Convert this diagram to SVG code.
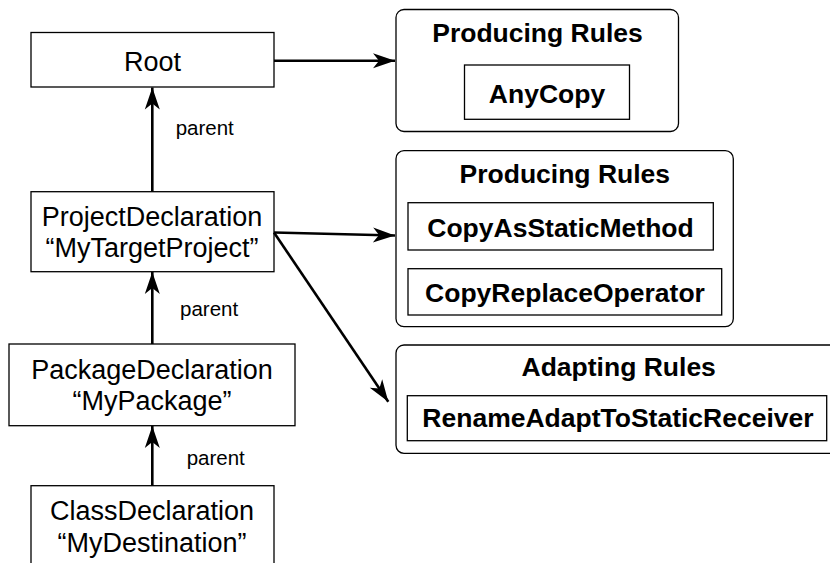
<svg xmlns="http://www.w3.org/2000/svg" width="830" height="563" viewBox="0 0 830 563">
<style>
.node{fill:#fff;stroke:#000;stroke-width:1.3}
.grp{fill:#fff;stroke:#000;stroke-width:1.3}
.t{font-family:"Liberation Sans",Arial,sans-serif;font-size:27px;fill:#000;text-anchor:middle}
.b{font-family:"Liberation Sans",Arial,sans-serif;font-size:26.5px;font-weight:bold;fill:#000;text-anchor:middle}
.lbl{font-family:"Liberation Sans",Arial,sans-serif;font-size:20.5px;fill:#000}
.edge{fill:none;stroke:#000;stroke-width:2.6}
</style>
<defs>
<marker id="arr" markerUnits="userSpaceOnUse" markerWidth="30" markerHeight="20" viewBox="-24 -10 26 20" refX="0" refY="0" orient="auto">
<path d="M0,0 L-22,-7.5 L-16,0 L-22,7.5 Z" fill="#000"/>
</marker>
</defs>
<rect width="830" height="563" fill="#fff"/>

<g id="root">
<rect class="node" x="31" y="32.5" width="243" height="54.5"/>
<text class="t" x="152.5" y="70.5">Root</text>
</g>

<g id="projectDecl">
<rect class="node" x="31" y="191.7" width="243" height="80"/>
<text class="t" x="152" y="225.7">ProjectDeclaration</text>
<text class="t" x="152" y="256.7">“MyTargetProject”</text>
</g>

<g id="packageDecl">
<rect class="node" x="9" y="344" width="286" height="81.7"/>
<text class="t" x="152" y="379">PackageDeclaration</text>
<text class="t" x="152" y="410">“MyPackage”</text>
</g>

<g id="classDecl">
<rect class="node" x="31" y="485.7" width="243" height="90"/>
<text class="t" x="152" y="520">ClassDeclaration</text>
<text class="t" x="152" y="551.5">“MyDestination”</text>
</g>

<g id="producingRules1">
<rect class="grp" x="396" y="9.5" width="282.5" height="122" rx="8"/>
<text class="b" x="537.5" y="41.7">Producing Rules</text>
<rect class="node" x="464.5" y="65" width="165" height="54.3"/>
<text class="b" x="547" y="102.7">AnyCopy</text>
</g>

<g id="producingRules2">
<rect class="grp" x="396" y="150.7" width="337.3" height="176" rx="8"/>
<text class="b" x="564.8" y="182.7">Producing Rules</text>
<rect class="node" x="408" y="202.7" width="305.3" height="47.3"/>
<text class="b" x="560.5" y="236.7">CopyAsStaticMethod</text>
<rect class="node" x="408" y="268.7" width="313.7" height="46.3"/>
<text class="b" x="565" y="301.7">CopyReplaceOperator</text>
</g>

<g id="adaptingRules">
<rect class="grp" x="396" y="345" width="450" height="108.3" rx="8"/>
<text class="b" x="618.7" y="376">Adapting Rules</text>
<rect class="node" x="407.3" y="395.7" width="419.4" height="45"/>
<text class="b" x="618" y="426.7">RenameAdaptToStaticReceiver</text>
</g>

<g id="connectors">
<line class="edge" x1="274" y1="60.7" x2="395" y2="60.7" marker-end="url(#arr)"/>
<line class="edge" x1="152.3" y1="191.7" x2="152.3" y2="87.5" marker-end="url(#arr)"/>
<line class="edge" x1="274" y1="232.5" x2="395" y2="235.5" marker-end="url(#arr)"/>
<line class="edge" x1="274" y1="232.5" x2="388.3" y2="401.7" marker-end="url(#arr)"/>
<line class="edge" x1="152.3" y1="344" x2="152.3" y2="272" marker-end="url(#arr)"/>
<line class="edge" x1="152.3" y1="485.7" x2="152.3" y2="426" marker-end="url(#arr)"/>
<text class="lbl" x="175.7" y="135">parent</text>
<text class="lbl" x="180" y="316">parent</text>
<text class="lbl" x="186.7" y="465">parent</text>
</g>
</svg>
